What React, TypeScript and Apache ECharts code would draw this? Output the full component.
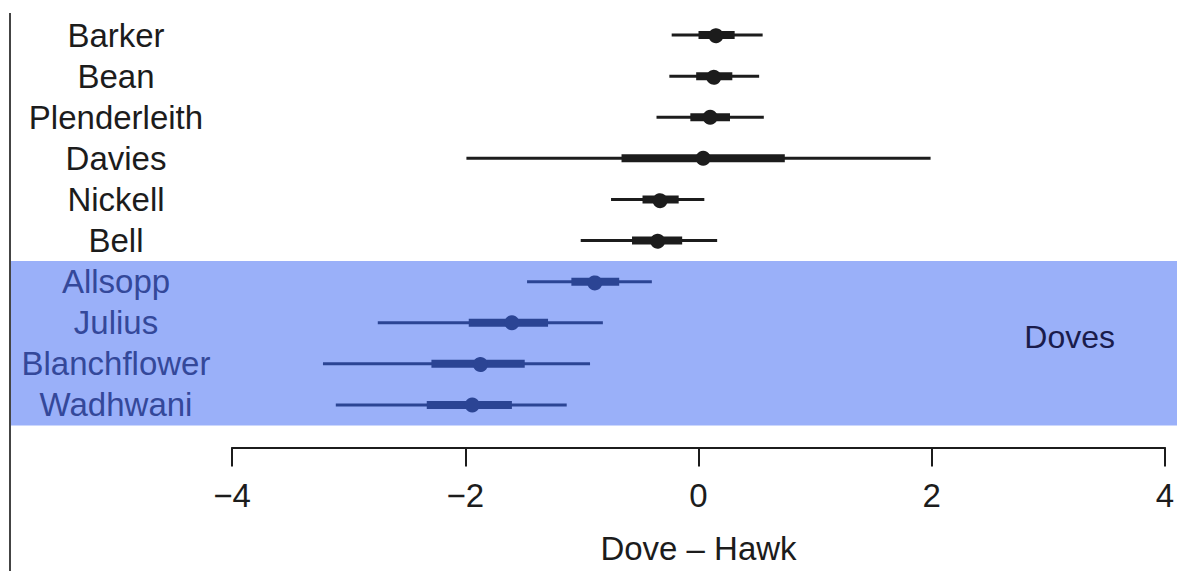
import React, { useEffect, useRef } from "react";
import * as echarts from "echarts";

const names = ["Barker", "Bean", "Plenderleith", "Davies", "Nickell", "Bell", "Allsopp", "Julius", "Blanchflower", "Wadhwani"];
const doves = ["Allsopp", "Julius", "Blanchflower", "Wadhwani"];
const medians = [0.15, 0.13, 0.1, 0.04, -0.33, -0.35, -0.89, -1.6, -1.87, -1.94];
const lo95 = [-0.23, -0.25, -0.36, -1.99, -0.75, -1.01, -1.47, -2.75, -3.22, -3.11];
const hi95 = [0.55, 0.52, 0.56, 1.99, 0.05, 0.16, -0.4, -0.82, -0.93, -1.13];
const lo50 = [0.0, -0.02, -0.07, -0.66, -0.48, -0.57, -1.09, -1.97, -2.29, -2.33];
const hi50 = [0.31, 0.29, 0.27, 0.74, -0.17, -0.14, -0.68, -1.29, -1.49, -1.6];
const xTicks = [-4, -2, 0, 2, 4];
const bandLabel = "Doves";
const xName = "Dove \u2013 Hawk";

const FONT = "'Liberation Sans', Arial, Helvetica, sans-serif";
const BLACK = "#1c1c1c";
const BLUE_MARK = "#2b4494";
const BLUE_TEXT = "#34489a";
const BAND = "#9ab0f9";

export default function App() {
  const ref = useRef<HTMLDivElement>(null);
  useEffect(() => {
    if (!ref.current) return;
    const chart = echarts.init(ref.current, undefined, { renderer: "svg" });
    const rows = names.map((n, i) => [medians[i], i, lo95[i], hi95[i], lo50[i], hi50[i]]);
    const bandStart = names.indexOf(doves[0]);
    const bandEnd = names.indexOf(doves[doves.length - 1]) + 1;
    const top = 14.5;
    const height = 411;
    chart.setOption({
      animation: false,
      backgroundColor: "#ffffff",
      textStyle: { fontFamily: FONT },
      grid: [
        { left: 232, right: 12, top, height, containLabel: false, outerBoundsMode: "none" },
        { left: 11, right: 0, top, height, containLabel: false, outerBoundsMode: "none" },
      ],
      xAxis: [
        {
          type: "value",
          gridIndex: 0,
          min: xTicks[0],
          max: xTicks[xTicks.length - 1],
          interval: 2,
          offset: 22,
          splitLine: { show: false },
          axisLine: { show: true, lineStyle: { color: BLACK, width: 2 } },
          axisTick: { show: true, length: 19, lineStyle: { color: BLACK, width: 2 } },
          axisLabel: {
            margin: 31,
            fontSize: 33,
            color: BLACK,
            fontFamily: FONT,
            formatter: (v: number) => (v < 0 ? "\u2212" + Math.abs(v) : String(v)),
          },
          name: xName,
          nameLocation: "middle",
          nameGap: 84,
          nameTextStyle: { fontSize: 33, color: BLACK, fontFamily: FONT },
        },
        { type: "value", gridIndex: 1, min: 0, max: 1, show: false },
      ],
      yAxis: [
        {
          type: "category",
          gridIndex: 0,
          inverse: true,
          z: 10,
          data: names,
          axisLine: { show: false },
          axisTick: { show: false },
          splitLine: { show: false },
          axisLabel: {
            interval: 0,
            margin: 116,
            align: "center",
            fontSize: 33,
            fontFamily: FONT,
            color: (v: string) => (doves.includes(v) ? BLUE_TEXT : BLACK),
          },
        },
        { type: "value", gridIndex: 1, min: 0, max: names.length, inverse: true, show: false },
      ],
      graphic: [
        { type: "line", shape: { x1: 10, y1: 13, x2: 10, y2: 571 }, style: { stroke: "#444", lineWidth: 2 } },
      ],
      series: [
        {
          type: "custom",
          xAxisIndex: 1,
          yAxisIndex: 1,
          z: 1,
          silent: true,
          data: [[0, bandStart, 1, bandEnd]],
          encode: { x: [0, 2], y: [1, 3] },
          renderItem: (params: any, api: any) => {
            const p0 = api.coord([api.value(0), api.value(1)]);
            const p1 = api.coord([api.value(2), api.value(3)]);
            const mid = api.coord([api.value(2), (api.value(1) + api.value(3)) / 2]);
            return {
              type: "group",
              children: [
                { type: "rect", shape: { x: p0[0], y: p0[1], width: p1[0] - p0[0], height: p1[1] - p0[1] }, style: { fill: BAND } },
                {
                  type: "text",
                  x: mid[0] - 62,
                  y: mid[1] - 6,
                  style: { text: bandLabel, fill: "#1a1c4c", font: `32px ${FONT}`, align: "right", verticalAlign: "middle" },
                },
              ],
            };
          },
        },
        {
          type: "custom",
          xAxisIndex: 0,
          yAxisIndex: 0,
          z: 5,
          data: rows,
          encode: { x: [0, 2, 3, 4, 5], y: 1 },
          renderItem: (params: any, api: any) => {
            const y = api.value(1);
            const color = doves.includes(names[y]) ? BLUE_MARK : BLACK;
            const c = api.coord([api.value(0), y]);
            const a = api.coord([api.value(2), y]);
            const b = api.coord([api.value(3), y]);
            const d = api.coord([api.value(4), y]);
            const e = api.coord([api.value(5), y]);
            return {
              type: "group",
              children: [
                { type: "line", shape: { x1: a[0], y1: a[1], x2: b[0], y2: b[1] }, style: { stroke: color, lineWidth: 3 } },
                { type: "line", shape: { x1: d[0], y1: d[1], x2: e[0], y2: e[1] }, style: { stroke: color, lineWidth: 8 } },
                { type: "circle", shape: { cx: c[0], cy: c[1], r: 7.5 }, style: { fill: color } },
              ],
            };
          },
        },
      ],
    });
    return () => chart.dispose();
  }, []);
  return (
    <div
      ref={ref}
      style={{ position: "absolute", left: 0, top: 0, width: 1177, height: 571, background: "#fff" }}
    />
  );
}
